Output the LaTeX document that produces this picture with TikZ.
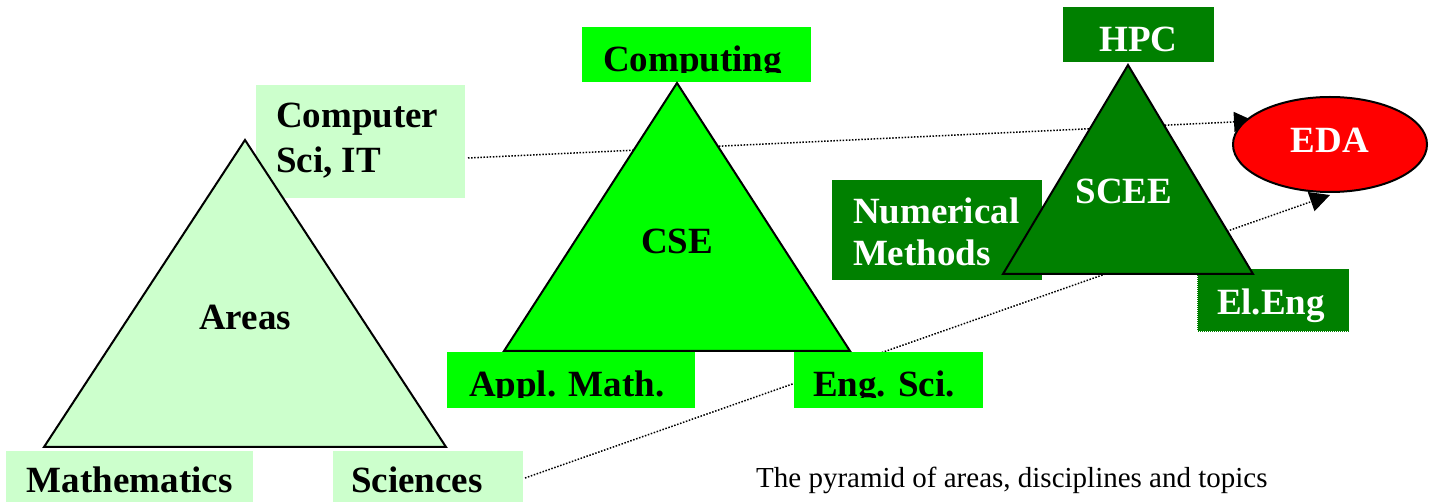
\documentclass[tikz,border=0pt]{standalone}
\usepackage{fontspec}
\setmainfont{Liberation Serif}
\usetikzlibrary{arrows.meta,shapes.geometric}
\definecolor{lgreen}{HTML}{CCFFCC}
\definecolor{bgreen}{HTML}{00FF00}
\definecolor{dgreen}{HTML}{008000}
\definecolor{edared}{HTML}{FF0000}
\begin{document}
\begin{tikzpicture}[x=1pt,y=-1pt,
  box/.style={inner sep=0pt, outer sep=0pt, anchor=north west, draw=none},
  lab/.style={font=\bfseries\fontsize{37}{42}\selectfont, inner sep=0pt, outer sep=0pt, anchor=base west},
  clab/.style={lab, anchor=base},
  tri/.style={draw=black, line width=2pt, line join=miter},
  link/.style={dash pattern=on 1.5pt off 1.6pt, line width=1.5pt, -{Triangle[length=20pt,width=20pt]}}]
\useasboundingbox[fill=white] (0,0) rectangle (1433,502);

% connector end points
\coordinate (l1s) at (468,158);
\coordinate (l1e) at (1254,121);
\coordinate (l2s) at (525,478);
\coordinate (l2e) at (1330,195);
\draw[link] (l1s) -- (l1e);
\draw[link] (l2s) -- (l2e);

% boxes
\node[box, fill=lgreen, minimum width=209pt, minimum height=113pt] (compsci) at (256,85) {};
\node[box, fill=lgreen, minimum width=247pt, minimum height=60pt] (math) at (6,451) {};
\node[box, fill=lgreen, minimum width=190pt, minimum height=60pt] (sci) at (333,451) {};
\node[box, fill=bgreen, minimum width=229pt, minimum height=55pt] (comp) at (582,27) {};
\node[box, fill=bgreen, minimum width=248pt, minimum height=56pt] (appl) at (447,352) {};
\node[box, fill=bgreen, minimum width=189pt, minimum height=56pt] (eng) at (794,352) {};
\node[box, fill=dgreen, minimum width=151pt, minimum height=55pt] (hpc) at (1063,7) {};
\node[box, fill=dgreen, minimum width=210pt, minimum height=100pt] (num) at (832,180) {};
\node[box, fill=dgreen, draw=white, line width=1pt, dash pattern=on 1pt off 1pt, minimum width=152pt, minimum height=63pt] (eleng) at (1197,269) {};

% triangles
\coordinate (a1) at (245,140);
\coordinate (a2) at (44,447);
\coordinate (a3) at (446,447);
\draw[tri, fill=lgreen] (a1) -- (a2) -- (a3) -- cycle;
\coordinate (c1) at (677,83);
\coordinate (c2) at (504,351);
\coordinate (c3) at (850,351);
\draw[tri, fill=bgreen] (c1) -- (c2) -- (c3) -- cycle;
\coordinate (s1) at (1128,65);
\coordinate (s2) at (1003,274);
\coordinate (s3) at (1253,274);
\draw[tri, fill=dgreen] (s1) -- (s2) -- (s3) -- cycle;

% labels
\node[lab] (cs1) at (276,128) {Computer};
\node[lab] (cs2) at (276,173) {Sci, IT};
\node[lab] (mathl) at (27,493) {Mathematics};
\node[lab] (scil) at (351,493) {Sciences};
\node[clab] (areas) at (245,330) {Areas};
\begin{scope}
  \clip (582,27) rectangle (811,73);
  \node[lab] (compl) at (603,72) {Computing};
\end{scope}
\begin{scope}
  \clip (447,352) rectangle (983,398);
  \node[lab] (appll) at (469,397) {Appl. Math.};
  \node[lab] (engl) at (813,397) {Eng. Sci.};
\end{scope}
\node[clab] (cse) at (677,254) {CSE};
\node[clab, text=white] (scee) at (1124,204) {SCEE};
\node[clab, text=white] (hpcl) at (1138.5,52) {HPC};
\node[lab, text=white] (num1) at (853,224) {Numerical};
\node[lab, text=white] (num2) at (853,266) {Methods};
\node[lab, text=white] (elengl) at (1217,315) {El.Eng};

% ellipse
\node[ellipse, draw=black, line width=2pt, fill=edared, minimum width=194pt, minimum height=95pt, inner sep=0pt] (eda) at (1330,144.5) {};
\node[clab, text=white] (edal) at (1330,153) {EDA};

% caption
\node[font=\fontsize{29}{34}\selectfont, inner sep=0pt, anchor=base west] (cap) at (756,487) {The pyramid of areas, disciplines and topics};
\end{tikzpicture}
\end{document}
